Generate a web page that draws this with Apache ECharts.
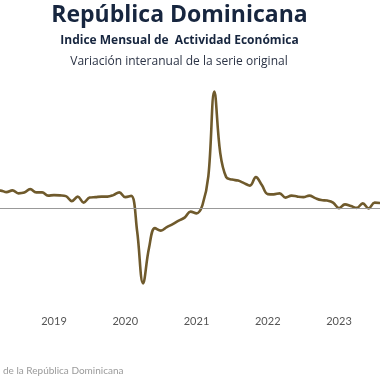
<!DOCTYPE html>
<html>
<head>
<meta charset="utf-8">
<script src="https://cdn.jsdelivr.net/npm/echarts@6/dist/echarts.min.js"></script>
<style>html,body{margin:0;padding:0;background:#fff;}#c{width:380px;height:380px;}</style>
</head>
<body>
<div id="c"></div>
<script>
// Month index: 0 = January 2018
var firstMonthIndex = 2; // March 2018
var values = [6.6, 7.2, 6.6, 7.3, 6.1, 6.4, 7.8, 6.5, 6.5, 5.2,
  5.4, 5.3, 5.0, 3.0, 4.8, 2.4, 4.4, 4.6, 4.8, 4.8, 5.4, 6.5,
  4.6, 5.1, -9.0, -29.9, -15.8, -7.8, -8.8, -7.4, -6.2, -4.8, -3.6, -1.2,
  -1.9, 1.4, 13.0, 46.8, 22.2, 12.6, 11.6, 11.2, 10.2, 9.2, 12.6, 9.4,
  5.8, 5.7, 6.1, 4.4, 5.2, 4.8, 4.6, 5.2, 4.2, 3.4, 3.2, 2.4,
  0.2, 1.7, 1.0, 0.3, 2.1, 0.1, 2.4, 2.2];
var baseYear = 2018;
var yearTicks = [12, 24, 36, 48, 60]; // January 2019 ... January 2023
var titleText = "República Dominicana";
var subtitle1 = "Indice Mensual de  Actividad Económica";
var subtitle2 = "Variación interanual de la serie original";
var sourceText = "de la República Dominicana";

var data = values.map(function (v, i) { return [firstMonthIndex + i, v]; });

var chart = echarts.init(document.getElementById('c'), null, {renderer: 'canvas'});
chart.setOption({
  animation: false,
  backgroundColor: '#ffffff',
  grid: {left: 0, right: 0, top: 58.6, bottom: 71.4, containLabel: false},
  xAxis: {
    type: 'value', min: 2.905, max: 66.905,
    axisLine: {show: false}, axisTick: {show: false}, splitLine: {show: false},
    axisLabel: {
      customValues: yearTicks, margin: 7,
      color: '#555555', fontSize: 11, fontFamily: 'Lato',
      formatter: function (v) { return String(baseYear + Math.round(v / 12)); }
    }
  },
  yAxis: {
    type: 'value', min: -40, max: 60, show: false,
    splitLine: {show: false}
  },
  graphic: [
    {type: 'text', x: 179.5, y: 15, style: {text: titleText, fill: '#17263f', font: 'bold 23px "Open Sans"', align: 'center', verticalAlign: 'middle'}},
    {type: 'text', x: 179.5, y: 40.5, style: {text: subtitle1, fill: '#17263f', font: 'bold 12px "Open Sans"', align: 'center', verticalAlign: 'middle'}},
    {type: 'text', x: 179, y: 62, style: {text: subtitle2, fill: '#2b3345', font: '12px "Open Sans"', align: 'center', verticalAlign: 'middle'}},
    {type: 'text', x: 3, y: 370.7, style: {text: sourceText, fill: '#9a9a9a', font: '10px Lato', align: 'left', verticalAlign: 'middle'}}
  ],
  series: [{
    type: 'line', data: data, smooth: 0.4, symbol: 'none', clip: true,
    lineStyle: {color: '#6f5a2c', width: 2.6},
    markLine: {
      silent: true, symbol: ['none', 'none'], label: {show: false},
      lineStyle: {color: '#999999', width: 1, type: 'solid'},
      data: [{yAxis: 0}]
    }
  }]
});
</script>
</body>
</html>
